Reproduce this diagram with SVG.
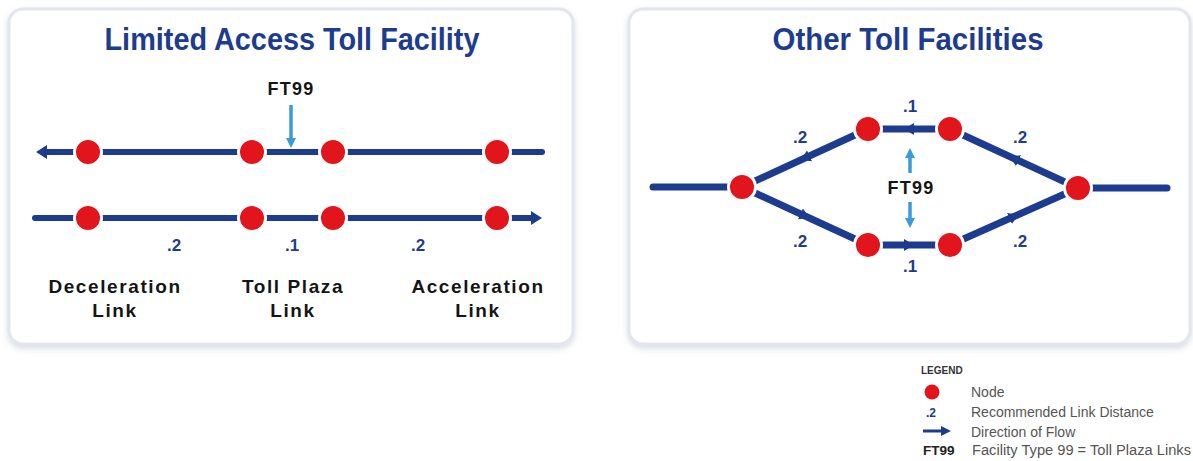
<svg xmlns="http://www.w3.org/2000/svg" width="1193" height="461" viewBox="0 0 1193 461">
<defs>
<filter id="sh" x="-5%" y="-5%" width="110%" height="115%">
<feDropShadow dx="0" dy="3" stdDeviation="3" flood-color="#b9bfcc" flood-opacity="0.55"/>
</filter>
<marker id="head" viewBox="0 0 10 12" refX="5" refY="6" markerWidth="10" markerHeight="12" markerUnits="userSpaceOnUse" orient="auto">
<path d="M0,0 L10,6 L0,12 Z" fill="#1d3c8f"/>
</marker>
<marker id="endhead" viewBox="0 0 11 14" refX="1" refY="7" markerWidth="11" markerHeight="14" markerUnits="userSpaceOnUse" orient="auto">
<path d="M0,0 L11,7 L0,14 Z" fill="#1d3c8f"/>
</marker>
<marker id="cyanhead" viewBox="0 0 10 10" refX="1" refY="5" markerWidth="10" markerHeight="10" markerUnits="userSpaceOnUse" orient="auto">
<path d="M0,0 L10,5 L0,10 Z" fill="#3a9bd8"/>
</marker>
</defs>
<style>
.panel{fill:#ffffff;stroke:#e3e6ec;stroke-width:3;filter:url(#sh)}
.title{font-family:"Liberation Sans",Arial,sans-serif;font-weight:bold;font-size:31px;fill:#1d3c8f}
.road{fill:none;stroke:#1d3c8f;stroke-width:6;stroke-linecap:round}
.road2{fill:none;stroke:#1d3c8f;stroke-width:7;stroke-linecap:round}
.node{fill:#e2141c;stroke:#ffffff;stroke-width:3}
.dist{font-family:"Liberation Sans",Arial,sans-serif;font-weight:bold;font-size:17px;fill:#1d3c8f;text-anchor:middle}
.lbl{font-family:"Liberation Sans",Arial,sans-serif;font-weight:bold;font-size:19px;fill:#151515;text-anchor:middle;letter-spacing:1.6px}
.ft{font-family:"Liberation Sans",Arial,sans-serif;font-weight:bold;font-size:18px;fill:#151515;text-anchor:middle;letter-spacing:1.2px}
.cyan{fill:none;stroke:#3a9bd8;stroke-width:3.5}
.leg{font-family:"Liberation Sans",Arial,sans-serif;font-size:14px;fill:#555555}
</style>

<g id="panel-left">
<rect class="panel" x="9" y="9" width="564" height="335" rx="14"/>
<text class="title" x="292" y="50" text-anchor="middle" textLength="375" lengthAdjust="spacingAndGlyphs">Limited Access Toll Facility</text>
</g>
<g id="panel-right">
<rect class="panel" x="629" y="9" width="561" height="335" rx="14"/>
<text class="title" x="908" y="50" text-anchor="middle" textLength="271" lengthAdjust="spacingAndGlyphs">Other Toll Facilities</text>
</g>

<g id="connectors">
<path class="road" d="M542,152 L46,152" marker-end="url(#endhead)"/>
<path class="road" d="M35,218 L532,218" marker-end="url(#endhead)"/>
<path class="cyan" d="M291,105 L291,139" marker-end="url(#cyanhead)"/>
<path class="road2" d="M653,187 L742,187"/>
<path class="road2" d="M868,129 L805,158 L742,187" marker-mid="url(#head)"/>
<path class="road2" d="M950,129 L909,129 L868,129" marker-mid="url(#head)"/>
<path class="road2" d="M1078,188 L1014,158.5 L950,129" marker-mid="url(#head)"/>
<path class="road2" d="M1078,188 L1167,188"/>
<path class="road2" d="M742,187 L805,216 L868,245" marker-mid="url(#head)"/>
<path class="road2" d="M868,245 L909,245 L950,245" marker-mid="url(#head)"/>
<path class="road2" d="M950,245 L1014,216.5 L1078,188" marker-mid="url(#head)"/>
<path class="cyan" d="M910,173 L910,157" marker-end="url(#cyanhead)"/>
<path class="cyan" d="M910,202 L910,219" marker-end="url(#cyanhead)"/>
</g>

<g id="nodes-left">
<circle class="node" cx="88" cy="152" r="13.5"/>
<circle class="node" cx="252" cy="152" r="13.5"/>
<circle class="node" cx="333" cy="152" r="13.5"/>
<circle class="node" cx="497" cy="152" r="13.5"/>
<circle class="node" cx="88" cy="218" r="13.5"/>
<circle class="node" cx="252" cy="218" r="13.5"/>
<circle class="node" cx="333" cy="218" r="13.5"/>
<circle class="node" cx="497" cy="218" r="13.5"/>
</g>
<g id="nodes-right">
<circle class="node" cx="742" cy="187" r="13.5"/>
<circle class="node" cx="868" cy="129" r="13.5"/>
<circle class="node" cx="950" cy="129" r="13.5"/>
<circle class="node" cx="868" cy="245" r="13.5"/>
<circle class="node" cx="950" cy="245" r="13.5"/>
<circle class="node" cx="1078" cy="188" r="13.5"/>
</g>

<g id="labels-left">
<text class="ft" x="291" y="95">FT99</text>
<text class="dist" x="174" y="251">.2</text>
<text class="dist" x="292" y="251">.1</text>
<text class="dist" x="418" y="251">.2</text>
<text class="lbl" x="115" y="293">Deceleration</text>
<text class="lbl" x="115" y="317">Link</text>
<text class="lbl" x="293" y="293">Toll Plaza</text>
<text class="lbl" x="293" y="317">Link</text>
<text class="lbl" x="478" y="293">Acceleration</text>
<text class="lbl" x="478" y="317">Link</text>
</g>
<g id="labels-right">
<text class="ft" x="911" y="194">FT99</text>
<text class="dist" x="800" y="143">.2</text>
<text class="dist" x="800" y="247">.2</text>
<text class="dist" x="1020" y="143">.2</text>
<text class="dist" x="1020" y="247">.2</text>
<text class="dist" x="910" y="112">.1</text>
<text class="dist" x="910" y="272">.1</text>
</g>

<g id="legend">
<text x="921" y="374" style="font-family:'Liberation Sans',Arial,sans-serif;font-weight:bold;font-size:10px;fill:#333333">LEGEND</text>
<circle cx="932" cy="392" r="7.5" fill="#e2141c"/>
<text class="leg" x="971" y="397">Node</text>
<text x="931" y="417" style="font-family:'Liberation Sans',Arial,sans-serif;font-weight:bold;font-size:12px;fill:#1d3c8f;text-anchor:middle">.2</text>
<text class="leg" x="971" y="417">Recommended Link Distance</text>
<path d="M923,431 L942,431" stroke="#1d3c8f" stroke-width="3" fill="none"/>
<path d="M941,426 L951,431 L941,436 Z" fill="#1d3c8f"/>
<text class="leg" x="971" y="437">Direction of Flow</text>
<text x="923" y="455" style="font-family:'Liberation Sans',Arial,sans-serif;font-weight:bold;font-size:13.5px;fill:#222222">FT99</text>
<text class="leg" x="972" y="455" textLength="219" lengthAdjust="spacingAndGlyphs">Facility Type 99 = Toll Plaza Links</text>
</g>
</svg>
